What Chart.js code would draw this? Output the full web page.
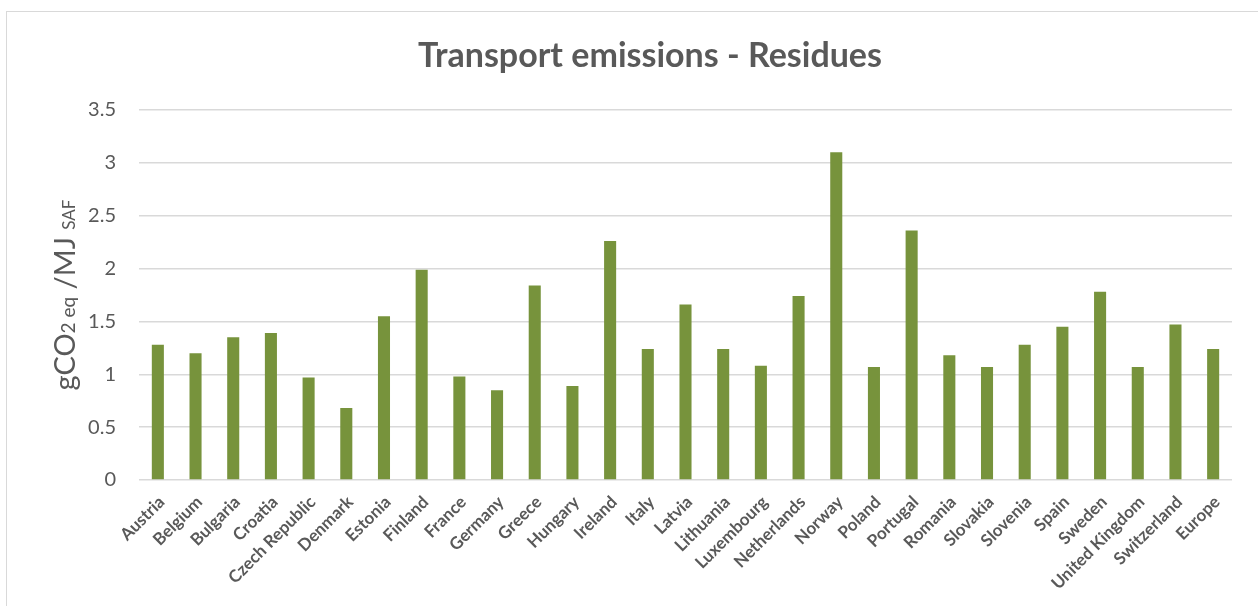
<!DOCTYPE html>
<html>
<head>
<meta charset="utf-8">
<title>Transport emissions - Residues</title>
<script src="https://cdn.jsdelivr.net/npm/chart.js@4/dist/chart.umd.min.js"></script>
<style>
  html, body { margin: 0; padding: 0; background: #fff; }
  #wrap { position: relative; width: 1258px; height: 606px; }
</style>
</head>
<body>
<div id="wrap"><canvas id="chart" width="1258" height="606"></canvas></div>
<script>
/* countries + emission values (gCO2 eq / MJ SAF) */
const countries = [
  'Austria', 'Belgium', 'Bulgaria', 'Croatia', 'Czech Republic', 'Denmark',
  'Estonia', 'Finland', 'France', 'Germany', 'Greece', 'Hungary', 'Ireland',
  'Italy', 'Latvia', 'Lithuania', 'Luxembourg', 'Netherlands', 'Norway',
  'Poland', 'Portugal', 'Romania', 'Slovakia', 'Slovenia', 'Spain', 'Sweden',
  'United Kingdom', 'Switzerland', 'Europe'
];
const emissions = [
  1.28, 1.20, 1.35, 1.39, 0.97, 0.68,
  1.55, 1.99, 0.98, 0.85, 1.84, 0.89, 2.26,
  1.24, 1.66, 1.24, 1.08, 1.74, 3.10,
  1.07, 2.36, 1.18, 1.07, 1.28, 1.45, 1.78,
  1.07, 1.47, 1.24
];
const yTicks = [0, 0.5, 1, 1.5, 2, 2.5, 3, 3.5];
const chartTitle = 'Transport emissions - Residues';

const GREY = '#595959';
const FONT = 'Lato, "Open Sans", sans-serif';

/* outer frame + centred title over the whole frame */
const frame = {
  id: 'frame',
  beforeDraw(chart) {
    const c = chart.ctx;
    c.save();
    c.strokeStyle = '#d9d9d9';
    c.lineWidth = 1;
    c.strokeRect(6.5, 11.5, 1400, 800);
    c.fillStyle = GREY;
    c.font = 'bold 34px ' + FONT;
    c.textAlign = 'center';
    c.textBaseline = 'middle';
    c.fillText(chartTitle, 650, 56);
    c.restore();
  }
};

/* y title with subscripts: gCO2 eq /MJ SAF */
const yTitle = {
  id: 'yTitle',
  afterDraw(chart) {
    const c = chart.ctx;
    const parts = [
      { t: 'gCO', size: 29 },
      { t: '2 eq', size: 19 },
      { t: ' /MJ ', size: 29 },
      { t: 'SAF', size: 17 }
    ];
    c.save();
    let total = 0;
    parts.forEach(p => {
      c.font = p.size + 'px ' + FONT;
      p.w = c.measureText(p.t).width;
      total += p.w;
    });
    c.translate(75, 295);
    c.rotate(-Math.PI / 2);
    c.fillStyle = GREY;
    c.textBaseline = 'alphabetic';
    let x = -total / 2;
    parts.forEach(p => {
      c.font = p.size + 'px ' + FONT;
      c.fillText(p.t, x, 0);
      x += p.w;
    });
    c.restore();
  }
};

new Chart(document.getElementById('chart'), {
  type: 'bar',
  data: {
    labels: countries,
    datasets: [{
      data: emissions,
      backgroundColor: '#77933C',
      barPercentage: 0.32,
      categoryPercentage: 1
    }]
  },
  options: {
    responsive: false,
    animation: false,
    layout: { padding: { left: 0, right: 26, top: 110, bottom: 0 } },
    plugins: {
      legend: { display: false },
      tooltip: { enabled: false },
      title: { display: false }
    },
    scales: {
      x: {
        grid: { display: false },
        border: { display: false },
        ticks: {
          color: GREY,
          font: { family: FONT, size: 17, weight: 'bold' },
          minRotation: 45,
          maxRotation: 45,
          autoSkip: false,
          labelOffset: 4,
          padding: 4
        },
        afterFit(scale) { scale.height = 126; }
      },
      y: {
        min: 0,
        max: 3.5,
        afterBuildTicks(scale) { scale.ticks = yTicks.map(v => ({ value: v })); },
        grid: {
          color: '#d9d9d9',
          lineWidth: 1.5,
          drawTicks: false
        },
        border: { display: false },
        ticks: {
          color: GREY,
          font: { family: FONT, size: 20 },
          padding: 23,
          callback: v => String(v)
        },
        afterFit(scale) { scale.width = 139; }
      }
    }
  },
  plugins: [frame, yTitle]
});
</script>
</body>
</html>
